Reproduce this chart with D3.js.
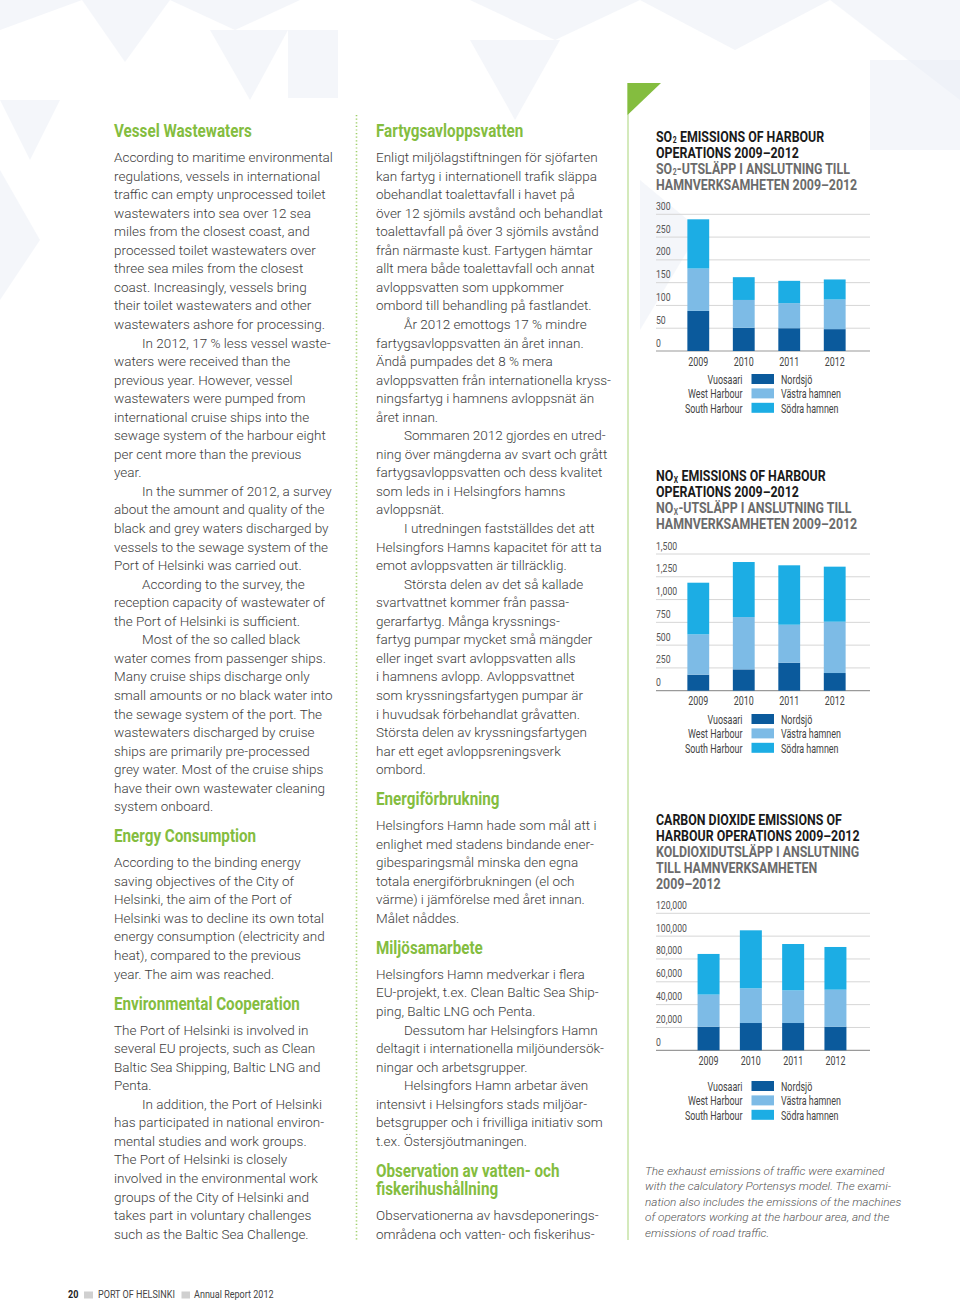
<!DOCTYPE html>
<html><head><meta charset="utf-8">
<script src="https://cdn.jsdelivr.net/npm/d3@7"></script>
<style>
html,body{margin:0;padding:0;background:#fff;}
svg{display:block;}
</style></head>
<body>
<svg id="page" width="960" height="1304"></svg>
<script>
// ---------- DATA ----------
const years = ["2009", "2010", "2011", "2012"];
const seriesNamesEn = ["Vuosaari", "West Harbour", "South Harbour"];
const seriesNamesSv = ["Nordsjö", "Västra hamnen", "Södra hamnen"];

const so2Vuosaari = [88, 51, 50, 48];
const so2West = [93, 61, 55, 65];
const so2South = [108, 50, 49, 44];
const so2Ticks = [0, 50, 100, 150, 200, 250, 300];

const noxVuosaari = [176, 234, 307, 194];
const noxWest = [442, 574, 417, 563];
const noxSouth = [567, 604, 652, 604];
const noxTicks = [0, 250, 500, 750, 1000, 1250, 1500];

const co2Vuosaari = [20700, 23900, 23900, 20700];
const co2West = [28100, 30400, 28600, 32400];
const co2South = [35600, 50800, 40600, 37400];
const co2Ticks = [0, 20000, 40000, 60000, 80000, 100000, 120000];

const so2Title = [
  [["SO"], ["2", "sub"], [" EMISSIONS OF HARBOUR"]],
  [["OPERATIONS 2009–2012"]],
  [["SO"], ["2", "sub"], ["-UTSLÄPP I ANSLUTNING TILL"]],
  [["HAMNVERKSAMHETEN 2009–2012"]]
];
const noxTitle = [
  [["NO"], ["X", "sub"], [" EMISSIONS OF HARBOUR"]],
  [["OPERATIONS 2009–2012"]],
  [["NO"], ["X", "sub"], ["-UTSLÄPP I ANSLUTNING TILL"]],
  [["HAMNVERKSAMHETEN 2009–2012"]]
];
const co2Title = [
  [["CARBON DIOXIDE EMISSIONS OF"]],
  [["HARBOUR OPERATIONS 2009–2012"]],
  [["KOLDIOXIDUTSLÄPP I ANSLUTNING"]],
  [["TILL HAMNVERKSAMHETEN"]],
  [["2009–2012"]]
];

const caption = [
  "The exhaust emissions of traffic were examined",
  "with the calculatory Portensys model. The exami-",
  "nation also includes the emissions of the machines",
  "of operators working at the harbour area, and the",
  "emissions of road traffic."
];

const leftColumn = [
  {h: ["Vessel Wastewaters"]},
  {p: ["According to maritime environmental", "regulations, vessels in international", "traffic can empty unprocessed toilet",
       "wastewaters into sea over 12 sea", "miles from the closest coast, and", "processed toilet wastewaters over",
       "three sea miles from the closest", "coast. Increasingly, vessels bring", "their toilet wastewaters and other",
       "wastewaters ashore for processing."]},
  {p: ["In 2012, 17 % less vessel waste-", "waters were received than the", "previous year. However, vessel",
       "wastewaters were pumped from", "international cruise ships into the", "sewage system of the harbour eight",
       "per cent more than the previous", "year."], indent: true},
  {p: ["In the summer of 2012, a survey", "about the amount and quality of the", "black and grey waters discharged by",
       "vessels to the sewage system of the", "Port of Helsinki was carried out."], indent: true},
  {p: ["According to the survey, the", "reception capacity of wastewater of", "the Port of Helsinki is sufficient."], indent: true},
  {p: ["Most of the so called black", "water comes from passenger ships.", "Many cruise ships discharge only",
       "small amounts or no black water into", "the sewage system of the port. The", "wastewaters discharged by cruise",
       "ships are primarily pre-processed", "grey water. Most of the cruise ships", "have their own wastewater cleaning",
       "system onboard."], indent: true},
  {h: ["Energy Consumption"]},
  {p: ["According to the binding energy", "saving objectives of the City of", "Helsinki, the aim of the Port of",
       "Helsinki was to decline its own total", "energy consumption (electricity and", "heat), compared to the previous",
       "year. The aim was reached."]},
  {h: ["Environmental Cooperation"]},
  {p: ["The Port of Helsinki is involved in", "several EU projects, such as Clean", "Baltic Sea Shipping, Baltic LNG and", "Penta."]},
  {p: ["In addition, the Port of Helsinki", "has participated in national environ-", "mental studies and work groups.",
       "The Port of Helsinki is closely", "involved in the environmental work", "groups of the City of Helsinki and",
       "takes part in voluntary challenges", "such as the Baltic Sea Challenge."], indent: true}
];

const middleColumn = [
  {h: ["Fartygsavloppsvatten"]},
  {p: ["Enligt miljölagstiftningen för sjöfarten", "kan fartyg i internationell trafik släppa", "obehandlat toalettavfall i havet på",
       "över 12 sjömils avstånd och behandlat", "toalettavfall på över 3 sjömils avstånd", "från närmaste kust. Fartygen hämtar",
       "allt mera både toalettavfall och annat", "avloppsvatten som uppkommer", "ombord till behandling på fastlandet."]},
  {p: ["År 2012 emottogs 17 % mindre", "fartygsavloppsvatten än året innan.", "Ändå pumpades det 8 % mera",
       "avloppsvatten från internationella kryss-", "ningsfartyg i hamnens avloppsnät än", "året innan."], indent: true},
  {p: ["Sommaren 2012 gjordes en utred-", "ning över mängderna av svart och grått", "fartygsavloppsvatten och dess kvalitet",
       "som leds in i Helsingfors hamns", "avloppsnät."], indent: true},
  {p: ["I utredningen fastställdes det att", "Helsingfors Hamns kapacitet för att ta", "emot avloppsvatten är tillräcklig."], indent: true},
  {p: ["Största delen av det så kallade", "svartvattnet kommer från passa-", "gerarfartyg. Många kryssnings-",
       "fartyg pumpar mycket små mängder", "eller inget svart avloppsvatten alls", "i hamnens avlopp. Avloppsvattnet",
       "som kryssningsfartygen pumpar är", "i huvudsak förbehandlat gråvatten.", "Största delen av kryssningsfartygen",
       "har ett eget avloppsreningsverk", "ombord."], indent: true},
  {h: ["Energiförbrukning"]},
  {p: ["Helsingfors Hamn hade som mål att i", "enlighet med stadens bindande ener-", "gibesparingsmål minska den egna",
       "totala energiförbrukningen (el och", "värme) i jämförelse med året innan.", "Målet nåddes."]},
  {h: ["Miljösamarbete"]},
  {p: ["Helsingfors Hamn medverkar i flera", "EU-projekt, t.ex. Clean Baltic Sea Ship-", "ping, Baltic LNG och Penta."]},
  {p: ["Dessutom har Helsingfors Hamn", "deltagit i internationella miljöundersök-", "ningar och arbetsgrupper."], indent: true},
  {p: ["Helsingfors Hamn arbetar även", "intensivt i Helsingfors stads miljöar-", "betsgrupper och i frivilliga initiativ som",
       "t.ex. Östersjöutmaningen."], indent: true},
  {h: ["Observation av vatten- och", "fiskerihushållning"]},
  {p: ["Observationerna av havsdeponerings-", "områdena och vatten- och fiskerihus-"]}
];

const footerPage = "20";
const footerParts = ["PORT OF HELSINKI", "Annual Report 2012"];

// ---------- STYLE ----------
const colors = ["#0b5a9c", "#7dbbe6", "#1cade4"];
const green = "#84bd3f";
const bodyColor = "#3c3c3c";
const CFONT = "Roboto, 'Liberation Sans', sans-serif";
const BFONT = "Roboto, 'Liberation Sans', sans-serif";

const svg = d3.select("#page");
svg.append("rect").attr("width", 960).attr("height", 1304).attr("fill", "#fff");

// measure helper -> horizontal condense ratio so that a reference string hits a target width
function measure(str, size, weight) {
  const t = svg.append("text").attr("font-family", CFONT).attr("font-size", size).attr("font-weight", weight).text(str);
  const w = t.node().getComputedTextLength();
  t.remove();
  return w;
}
const R = {
  title: 143 / measure("OPERATIONS 2009–2012", 16, "bold"),
  head: 138 / measure("Vessel Wastewaters", 17.5, "bold"),
  tick: 31 / measure("120,000", 11.3, "normal"),
  year: 20 / measure("2009", 12.3, "normal"),
  legend: 60 / measure("Västra hamnen", 12.3, "normal"),
  foot: 77 / measure("PORT OF HELSINKI", 11.5, "normal")
};

function cText(g, x, y, str, size, weight, ratio, fill, anchor) {
  return g.append("text").attr("font-family", CFONT).attr("font-size", size).attr("font-weight", weight)
    .attr("fill", fill).attr("text-anchor", anchor || "start")
    .attr("transform", `translate(${x},${y}) scale(${ratio},1)`).text(str);
}

// faint background triangles
const bg = svg.append("g");
const tris = [
  [[0,0],[82,0],[0,30]], [[82,0],[170,0],[125,62]], [[170,0],[300,0],[235,30]],
  [[288,30],[338,30],[338,98],[288,98]], [[210,30],[288,30],[250,100]],
  [[0,100],[60,100],[30,160]], [[470,0],[640,0],[555,40]],
  [[640,0],[830,0],[735,50]], [[830,0],[960,0],[960,100]],
  [[870,60],[960,60],[960,150],[870,150]], [[640,180],[700,230],[640,330]],
  [[470,40],[560,40],[515,120]], [[0,170],[40,240],[0,300]]
];
bg.selectAll("polygon").data(tris).join("polygon")
  .attr("points", d => d.map(p => p.join(",")).join(" "))
  .attr("fill", "#e9edf6").attr("opacity", 0.5);

// decorative lines
svg.append("line").attr("x1", 356.5).attr("x2", 356.5).attr("y1", 115).attr("y2", 1240)
  .attr("stroke", "#9fcf6a").attr("stroke-width", 1.6).attr("stroke-dasharray", "1.2,2.4");
svg.append("line").attr("x1", 628).attr("x2", 628).attr("y1", 83).attr("y2", 1240)
  .attr("stroke", "#b8dc8f").attr("stroke-width", 1.2);
svg.append("polygon").attr("points", "627.5,83 661,83 627.5,115").attr("fill", green);

// ---------- TEXT COLUMNS ----------
function drawColumn(blocks, x) {
  const g = svg.append("g");
  let y = null, prev = null;
  blocks.forEach(b => {
    if (b.h) {
      y = (y === null) ? 137 : y + 31;
      b.h.forEach((t, i) => {
        if (i > 0) y += 18.5;
        cText(g, x, y, t, 17.5, "bold", R.head, green);
      });
      prev = "h";
    } else {
      b.p.forEach((t, i) => {
        y += (prev === "h" && i === 0) ? 25 : 18.55;
        g.append("text").attr("font-family", BFONT).attr("font-weight", 300)
          .attr("x", x + (b.indent && i === 0 ? 28 : 0)).attr("y", y)
          .attr("font-size", 13.5).attr("fill", bodyColor).text(t);
      });
      prev = "p";
    }
  });
}
drawColumn(leftColumn, 114);
drawColumn(middleColumn, 376);

// ---------- CHARTS ----------
function drawChart(cfg) {
  const g = svg.append("g");
  // title (subscripts kept inside one text element)
  cfg.title.forEach((line, i) => {
    const t = cText(g, 656, cfg.titleY + i * 16, null, 15.5, "bold", R.title * 16 / 15.5, i < cfg.darkLines ? "#1a1a1a" : "#6b6b6b");
    line.forEach((seg, j) => {
      const s = t.append("tspan").text(seg[0]);
      if (seg[1] === "sub") s.attr("font-size", 8.5).attr("dx", 0.6).attr("dy", 1.6);
      else if (j > 0 && line[j - 1][1] === "sub") s.attr("dy", -1.6).attr("dx", 0.4);
    });
  });
  const y = d3.scaleLinear().domain([0, cfg.ticks[cfg.ticks.length - 1]]).range([cfg.y0, cfg.y1]);
  const x = d3.scaleBand().domain(years).range(cfg.xRange).paddingInner(cfg.pad).paddingOuter(0.25);
  const fmt = d3.format(",");
  // grid
  g.selectAll(".grid").data(cfg.ticks).join("line")
    .attr("x1", 656).attr("x2", 870).attr("y1", d => y(d)).attr("y2", d => y(d))
    .attr("stroke", d => d === 0 ? "#9a9a9a" : "#d6d6d6").attr("stroke-width", d => d === 0 ? 1.2 : 1);
  cfg.ticks.forEach(d => cText(g, 656, y(d) - 4.5, fmt(d), 11.3, "normal", R.tick, "#555"));
  // stacked bars
  const rows = years.map((yr, i) => ({year: yr, a: cfg.series[0][i], b: cfg.series[1][i], c: cfg.series[2][i]}));
  const stack = d3.stack().keys(["a", "b", "c"])(rows);
  g.selectAll(".layer").data(stack).join("g").attr("fill", (d, i) => colors[i])
    .selectAll("rect").data(d => d).join("rect")
    .attr("x", d => x(d.data.year)).attr("width", x.bandwidth())
    .attr("y", d => y(d[1])).attr("height", d => y(d[0]) - y(d[1]));
  // years
  years.forEach(d => cText(g, x(d) + x.bandwidth() / 2, cfg.y0 + 14.5, d, 12.3, "normal", R.year, "#444", "middle"));
  // legend
  seriesNamesEn.forEach((n, i) => {
    const ly = cfg.legendY + i * 14.4;
    cText(g, 742.5, ly, n, 12.3, "normal", R.legend, "#444", "end");
    g.append("rect").attr("x", 751.5).attr("y", ly - 10).attr("width", 22.5).attr("height", 10).attr("fill", colors[i]);
    cText(g, 781, ly, seriesNamesSv[i], 12.3, "normal", R.legend, "#444");
  });
}

drawChart({title: so2Title, darkLines: 2, titleY: 141.5, ticks: so2Ticks, y0: 351, y1: 214.3,
  xRange: [676, 857], pad: 0.52, legendY: 384, series: [so2Vuosaari, so2West, so2South]});
drawChart({title: noxTitle, darkLines: 2, titleY: 481, ticks: noxTicks, y0: 690.7, y1: 554,
  xRange: [676, 857], pad: 0.52, legendY: 724, series: [noxVuosaari, noxWest, noxSouth]});
drawChart({title: co2Title, darkLines: 2, titleY: 825, ticks: co2Ticks, y0: 1050.3, y1: 913.3,
  xRange: [687, 857], pad: 0.48, legendY: 1091, series: [co2Vuosaari, co2West, co2South]});

// caption
caption.forEach((t, i) => {
  svg.append("text").attr("font-family", BFONT).attr("font-weight", 300).attr("x", 645).attr("y", 1175 + i * 15.4)
    .attr("font-size", 11.8).attr("font-style", "italic").attr("fill", "#555").text(t);
});

// footer
const f = svg.append("g");
cText(f, 68, 1298, footerPage, 11.5, "bold", R.foot, "#222");
f.append("rect").attr("x", 84).attr("y", 1291.5).attr("width", 9).attr("height", 7).attr("fill", "#d0d0d0");
cText(f, 98, 1298, footerParts[0], 11.5, "normal", R.foot, "#444");
f.append("rect").attr("x", 181.5).attr("y", 1291.5).attr("width", 8.5).attr("height", 7).attr("fill", "#d0d0d0");
cText(f, 194, 1298, footerParts[1], 11.5, "normal", R.foot, "#444");
</script>
</body></html>
